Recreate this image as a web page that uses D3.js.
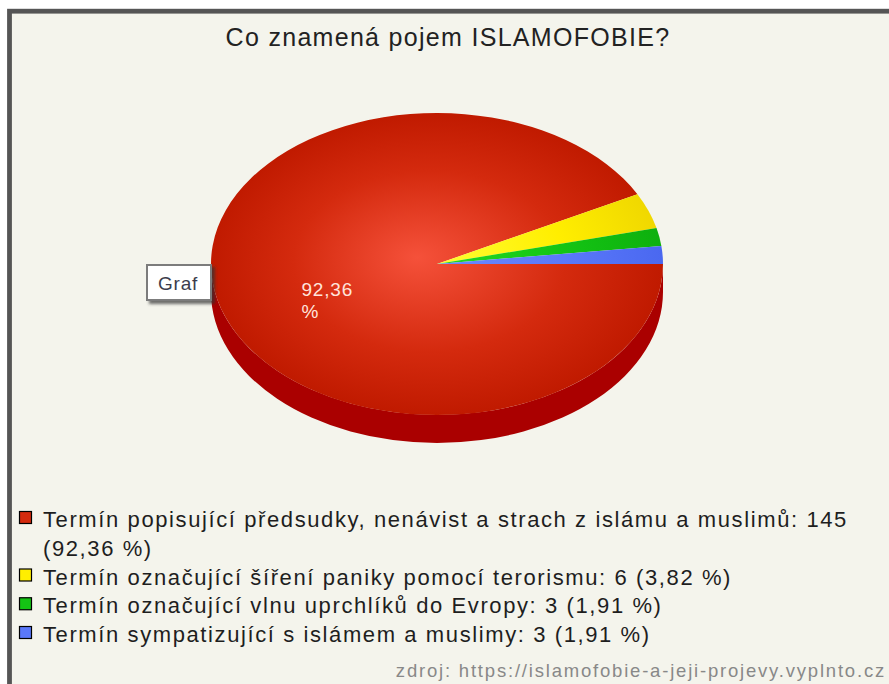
<!DOCTYPE html>
<html>
<head>
<meta charset="utf-8">
<script src="https://cdn.jsdelivr.net/npm/d3@7"></script>
<style>
html, body { margin: 0; padding: 0; background: #fff; }
svg { display: block; font-family: "Liberation Sans", Arial, sans-serif; }
</style>
</head>
<body>
<svg id="chart" width="889" height="684"></svg>
<script>
// data
var title = "Co znamená pojem ISLAMOFOBIE?";
var categories = [
    "Termín popisující předsudky, nenávist a strach z islámu a muslimů",
    "Termín označující šíření paniky pomocí terorismu",
    "Termín označující vlnu uprchlíků do Evropy",
    "Termín sympatizující s islámem a muslimy"
];
var counts = [145, 6, 3, 3];
var percents = ["92,36", "3,82", "1,91", "1,91"];
var source = "zdroj: https://islamofobie-a-jeji-projevy.vyplnto.cz";
var tipText = "Graf";

// palette (light centre / base / dark rim)
var colLight = ["#f5513a", "#ffff3a", "#26dc26", "#6e8cff"];
var colBase  = ["#d42a0e", "#ffee00", "#14c414", "#5a78fa"];
var colDark  = ["#c01a00", "#f0d800", "#0eb00e", "#4a68f0"];
var sideCol  = "#aa0000";

var W = 889, H = 684;
var cx = 437, cy = 264, rx = 226, ry = 151, depth = 28;

var svg = d3.select("#chart");
var defs = svg.append("defs");

// frame
svg.append("rect")
    .attr("x", 9.5).attr("y", 11.2)
    .attr("width", W + 20).attr("height", H + 20)
    .attr("fill", "#f4f4ec")
    .attr("stroke", "#555")
    .attr("stroke-width", 4.8);

// title
svg.append("text")
    .attr("x", 448).attr("y", 46)
    .attr("text-anchor", "middle")
    .attr("font-size", 25)
    .attr("letter-spacing", 1.3)
    .attr("fill", "#222")
    .text(title);

// pie layout, starting at 3 o'clock going clockwise
var pie = d3.pie().sort(null).value(function(d) { return d; })
    .startAngle(Math.PI / 2).endAngle(Math.PI / 2 + 2 * Math.PI);
var arcs = pie(counts);
var arc = d3.arc().innerRadius(0).outerRadius(rx);

function ex(a) { return cx + rx * Math.sin(a); }
function ey(a) { return cy - ry * Math.cos(a); }

// side walls (only the front half is visible)
var front0 = Math.PI / 2, front1 = 3 * Math.PI / 2;
arcs.forEach(function(d, i) {
    var lo = Math.max(d.startAngle, front0),
        hi = Math.min(d.endAngle, front1);
    if (hi <= lo) return;
    var large = (hi - lo) > Math.PI ? 1 : 0;
    var p = "M" + ex(lo) + "," + ey(lo)
        + "A" + rx + "," + ry + " 0 " + large + " 1 " + ex(hi) + "," + ey(hi)
        + "L" + ex(hi) + "," + (ey(hi) + depth)
        + "A" + rx + "," + ry + " 0 " + large + " 0 " + ex(lo) + "," + (ey(lo) + depth)
        + "Z";
    svg.append("path").attr("d", p).attr("fill", sideCol);
});

// gradients for the top face
arcs.forEach(function(d, i) {
    var g = defs.append("radialGradient")
        .attr("id", "grad" + i)
        .attr("gradientUnits", "userSpaceOnUse")
        .attr("cx", 0).attr("cy", 0).attr("r", rx)
        .attr("fx", -20).attr("fy", -10);
    g.append("stop").attr("offset", 0).attr("stop-color", colLight[i]);
    g.append("stop").attr("offset", 0.6).attr("stop-color", colBase[i]);
    g.append("stop").attr("offset", 1).attr("stop-color", colDark[i]);
});

var topFace = svg.append("g")
    .attr("transform", "translate(" + cx + "," + cy + ") scale(1," + (ry / rx) + ")");

topFace.selectAll("path.slice")
    .data(arcs)
    .enter()
    .append("path")
    .attr("class", "slice")
    .attr("d", arc)
    .attr("fill", function(d, i) { return "url(#grad" + i + ")"; });

// value label on the big slice only
arcs.forEach(function(d, i) {
    if (counts[i] / d3.sum(counts) < 0.1) return;
    var mid = (d.startAngle + d.endAngle) / 2;
    var r = 0.5;
    var px = cx + r * rx * Math.sin(mid),
        py = cy - r * ry * Math.cos(mid);
    var t = svg.append("text")
        .attr("font-size", 19)
        .attr("fill", "#ffe4dc")
        .attr("letter-spacing", 0.8);
    t.append("tspan").attr("y", py + 14).text(percents[i]);
    t.append("tspan").attr("y", py + 36).text("%");
    var w = t.select("tspan").node().getComputedTextLength();
    t.selectAll("tspan").attr("x", px - w / 2);
});

// "Graf" tooltip box
var shadow = defs.append("filter").attr("id", "shadow")
    .attr("x", "-20%").attr("y", "-20%").attr("width", "150%").attr("height", "160%");
shadow.append("feDropShadow")
    .attr("dx", 3).attr("dy", 3).attr("stdDeviation", 1.5)
    .attr("flood-color", "#333").attr("flood-opacity", 0.7);

var tip = svg.append("g")
    .attr("transform", "translate(" + (cx - rx - 64) + "," + (cy + 1) + ")");
tip.append("rect")
    .attr("width", 64).attr("height", 35)
    .attr("fill", "#fff")
    .attr("stroke", "#7c7c7c")
    .attr("stroke-width", 2)
    .attr("filter", "url(#shadow)");
tip.append("text")
    .attr("x", 11).attr("y", 25)
    .attr("font-size", 19)
    .attr("letter-spacing", 0.8)
    .attr("fill", "#3c3c4c")
    .text(tipText);

// legend
var lx = 43, lineH = 28.75, maxW = 840;
var baseline = 527;
var legend = svg.append("g");

categories.forEach(function(c, i) {
    var full = c + ": " + counts[i] + " (" + percents[i] + " %)";
    var t = legend.append("text")
        .attr("x", lx)
        .attr("font-size", 22)
        .attr("letter-spacing", 1.6)
        .attr("fill", "#1e1e1e");
    var words = full.split(" "), line = [], lines = 0;
    var ts = t.append("tspan").attr("x", lx).attr("y", baseline);
    words.forEach(function(w) {
        line.push(w);
        ts.text(line.join(" "));
        if (ts.node().getComputedTextLength() > maxW && line.length > 1) {
            line.pop();
            ts.text(line.join(" "));
            line = [w];
            lines++;
            ts = t.append("tspan").attr("x", lx).attr("y", baseline + lines * lineH).text(w);
        }
    });
    legend.append("rect")
        .attr("x", 19.5).attr("y", baseline - 15.5)
        .attr("width", 12).attr("height", 12)
        .attr("fill", colBase[i])
        .attr("stroke", "#000")
        .attr("stroke-width", 1.2);
    baseline += (lines + 1) * lineH;
});

// source
svg.append("text")
    .attr("x", 886).attr("y", 677)
    .attr("text-anchor", "end")
    .attr("font-size", 18.5)
    .attr("letter-spacing", 1.8)
    .attr("fill", "#888")
    .text(source);
</script>
</body>
</html>
